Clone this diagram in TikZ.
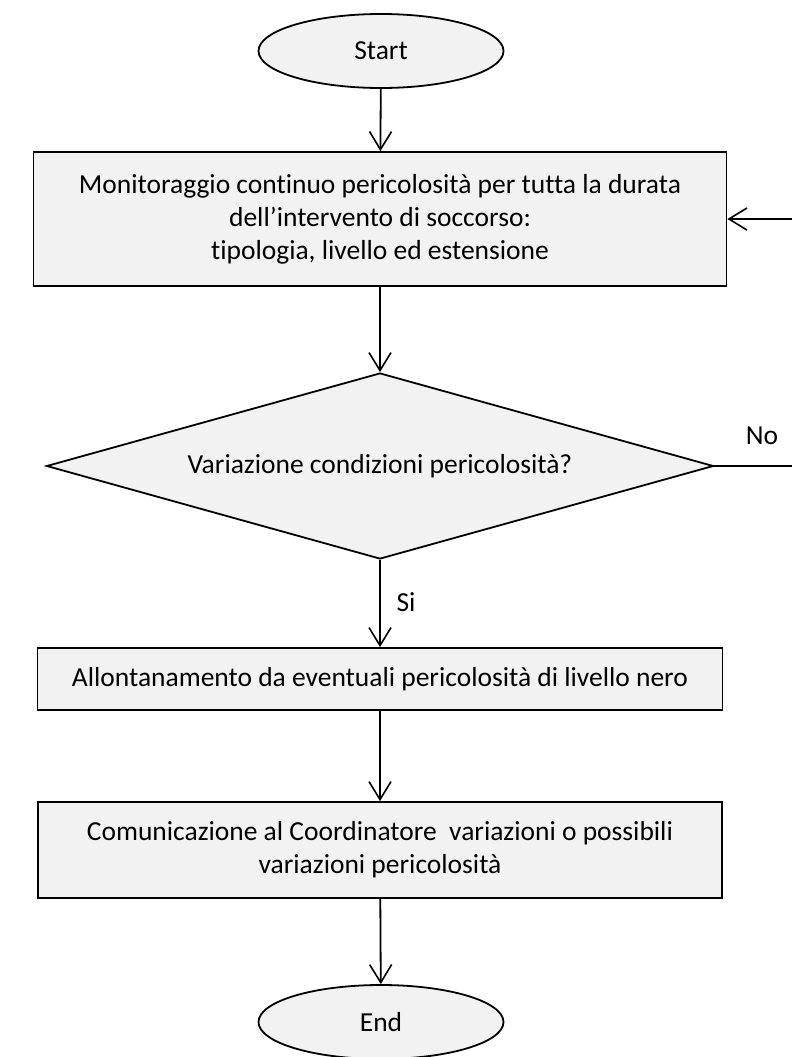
\documentclass[tikz,border=0pt]{standalone}
\usepackage{fontspec}
\setmainfont{Carlito}[Ligatures={NoCommon}]
\usetikzlibrary{shapes.geometric,arrows.meta}
\definecolor{boxfill}{HTML}{F2F2F2}
\tikzset{
  every node/.style={font=\fontsize{27.5}{33}\selectfont},
  shapebase/.style={draw=black, fill=boxfill, line width=1.8pt, inner sep=0pt, align=center},
  termbox/.style={shapebase, ellipse, minimum width=245pt, minimum height=74pt},
  procbox/.style={shapebase, rectangle},
  decbox/.style={shapebase, diamond, shape aspect=3.59, minimum width=667pt, minimum height=186pt},
  arr/.style={line width=1.8pt, -{Straight Barb[length=18pt, width=22pt, line width=1.6pt]}},
  lbl/.style={inner sep=0pt}
}
\begin{document}
\begin{tikzpicture}[x=1pt, y=-1pt]
\useasboundingbox (0,0) rectangle (792,1057);
\node[termbox] (start) at (381,51) {Start};
\node[procbox, minimum width=693pt, minimum height=134pt] (b1) at (380,219)
  {Monitoraggio continuo pericolosità per tutta la durata\\dell’intervento di soccorso:\\tipologia, livello ed estensione};
\node[decbox] (dia) at (380,466) {Variazione condizioni pericolosità?};
\node[procbox, minimum width=685pt, minimum height=62pt] (b2) at (380,679)
  {Allontanamento da eventuali pericolosità di livello nero};
\node[procbox, minimum width=684pt, minimum height=96pt] (b3) at (380,850)
  {Comunicazione al Coordinatore\ \ variazioni o possibili\\variazioni pericolosità};
\node[termbox] (end) at (381,1022) {End};
\coordinate (rc) at (800,0);
\node[lbl] (nolbl) at (762,436) {No};
\node[lbl] (silbl) at (406,602) {Si};

\draw[arr] (start) -- (b1);
\draw[arr] (b1) -- (dia);
\draw[arr] (dia) -- (b2);
\draw[arr] (b2) -- (b3);
\draw[arr] (b3) -- (end);
\draw[arr] (dia.east) -- (dia.east -| rc) -- (rc |- b1.east) -- (b1.east);
\end{tikzpicture}
\end{document}
